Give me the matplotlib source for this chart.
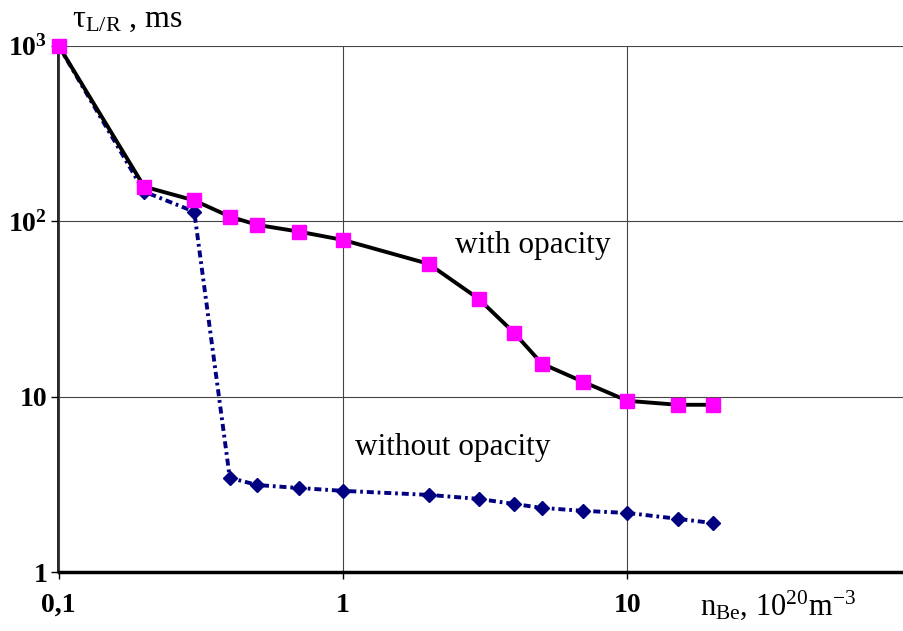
import matplotlib
matplotlib.use("Agg")
from matplotlib import pyplot as plt
import matplotlib.ticker as mticker

plt.rcParams['font.family'] = ['Liberation Serif', 'DejaVu Serif']
plt.rcParams['mathtext.fontset'] = 'custom'
plt.rcParams['mathtext.rm'] = 'Liberation Serif'
plt.rcParams['mathtext.it'] = 'Liberation Serif:italic'

# density, 10^20 m^-3
nBe = [0.1, 0.2, 0.3, 0.4, 0.5, 0.7, 1, 2, 3, 4, 5, 7, 10, 15, 20]
# tau_L/R, ms
tauWith = [1000, 157, 131, 106, 95, 87, 78, 57, 36, 23, 15.4, 12.1, 9.45, 8.97, 8.97]
tauWithout = [1000, 147, 113, 3.44, 3.13, 3.01, 2.9, 2.75, 2.61, 2.44, 2.32, 2.23, 2.17, 2.01, 1.90]

xticks = [0.1, 1, 10]
xlabels = ["0,1", "1", "10"]
yticks = [1, 10, 100, 1000]
ylabels = ["1", "10", r"10$\mathregular{^2}$", r"10$\mathregular{^3}$"]

fig = plt.figure(figsize=(9.04, 6.31), dpi=100)
ax = fig.add_axes([58.5/904, 59/631, (912-58.5)/904, (572-45.5)/631])
ax.set_xscale("log")
ax.set_yscale("log")
ax.set_xlim(0.1, 100)
ax.set_ylim(1, 1000)

ax.plot(nBe, tauWithout, color="#000080", lw=2.8, dashes=(1.8, 1.0, 0.7, 1.0),
        marker="D", ms=7, mfc="#000080", mec="#000080", zorder=3, clip_on=False)
ax.plot(nBe, tauWith, color="black", lw=2.8, marker="s", ms=10,
        mfc="#ff00ff", mec="#ff00ff", zorder=4, clip_on=False)

ax.xaxis.set_major_locator(mticker.FixedLocator(xticks))
ax.xaxis.set_minor_locator(mticker.NullLocator())
ax.set_xticklabels(xlabels, fontsize=20, fontweight="bold")
ax.yaxis.set_major_locator(mticker.FixedLocator(yticks))
ax.yaxis.set_minor_locator(mticker.NullLocator())
ax.set_yticklabels(ylabels, fontsize=20, fontweight="bold")
ax.tick_params(axis="x", length=5, width=1, pad=10)
ax.tick_params(axis="y", length=5, width=1, pad=3)

ax.grid(True, which="major", color="#444444", lw=0.8)
ax.set_axisbelow(True)
ax.spines["top"].set_visible(False)
ax.spines["right"].set_visible(False)
ax.spines["left"].set_linewidth(1.2)
ax.spines["bottom"].set_linewidth(2.5)

fig.text(455/904, 1 - 246/631, "with opacity", fontsize=22.5, va="center")
fig.text(355/904, 1 - 447/631, "without opacity", fontsize=22.5, va="center")
fig.text(72/904, 1 - 20/631, r"$\mathregular{\tau_{L/R}}$ , ms", fontsize=23, va="center")
fig.text(700/904, 1 - 605/631, r"$\mathregular{n_{Be}}$, 10$\mathregular{^{20}}$m$\mathregular{^{-3}}$",
         fontsize=22, va="center")

fig.savefig("out.png", dpi=100)
